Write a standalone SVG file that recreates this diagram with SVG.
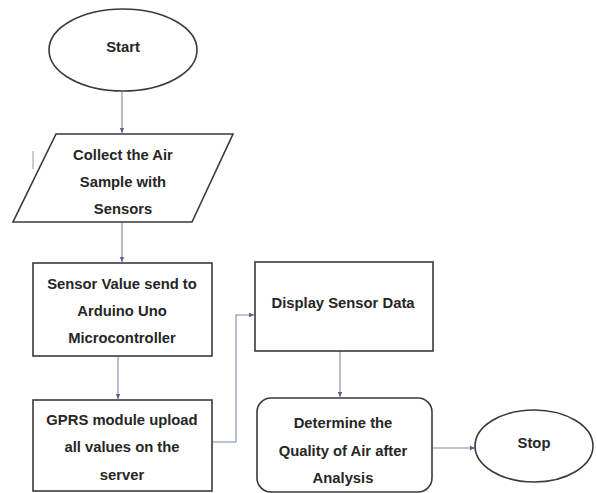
<svg xmlns="http://www.w3.org/2000/svg" width="597" height="493" viewBox="0 0 597 493">
<defs>
<style>
.shape{fill:#fff;stroke:#3a3a3a;stroke-width:1.6}
.lbl{font-family:"Liberation Sans",Arial,sans-serif;font-weight:bold;font-size:14.8px;fill:#262626;text-anchor:middle;dominant-baseline:central}
.conn{fill:none;stroke:#7b86b3;stroke-width:1.1}
</style>
<marker id="arr" markerWidth="6" markerHeight="6" refX="5" refY="3" orient="auto" markerUnits="userSpaceOnUse">
<path d="M0,0.8 L5,3 L0,5.2 Z" fill="#55609a"/>
</marker>
</defs>
<rect width="597" height="493" fill="#fff"/>
<g id="connectors">
<line class="conn" x1="122" y1="92" x2="122" y2="133" marker-end="url(#arr)"/>
<line class="conn" x1="122" y1="222" x2="122" y2="262" marker-end="url(#arr)"/>
<line class="conn" x1="118" y1="357" x2="118" y2="399" marker-end="url(#arr)"/>
<polyline class="conn" points="212,442 236,442 236,315 254,315" marker-end="url(#arr)"/>
<line class="conn" x1="340" y1="351" x2="340" y2="397" marker-end="url(#arr)"/>
<line class="conn" x1="432" y1="448" x2="475" y2="448" marker-end="url(#arr)"/>
<line x1="33" y1="151" x2="33" y2="169" stroke="#9a9a9a" stroke-width="1"/>
</g>
<g id="start">
<ellipse class="shape" cx="123" cy="50" rx="74" ry="41"/>
<text class="lbl" x="123" y="47">Start</text>
</g>
<g id="collect">
<polygon class="shape" points="56,134 233,134 192,222 13,222"/>
<text class="lbl" x="123" y="155">Collect the Air</text>
<text class="lbl" x="123" y="182">Sample with</text>
<text class="lbl" x="123" y="209">Sensors</text>
</g>
<g id="sensor">
<rect class="shape" x="33" y="263" width="179" height="93"/>
<text class="lbl" x="122" y="284">Sensor Value send to</text>
<text class="lbl" x="122" y="311">Arduino Uno</text>
<text class="lbl" x="122" y="338">Microcontroller</text>
</g>
<g id="gprs">
<rect class="shape" x="33" y="400" width="179" height="91"/>
<text class="lbl" x="122" y="420">GPRS module upload</text>
<text class="lbl" x="122" y="447">all values on the</text>
<text class="lbl" x="122" y="475">server</text>
</g>
<g id="display">
<rect class="shape" x="255" y="262" width="178" height="89"/>
<text class="lbl" x="343" y="303">Display Sensor Data</text>
</g>
<g id="determine">
<rect class="shape" x="257" y="398" width="175" height="94" rx="14" ry="14"/>
<text class="lbl" x="343" y="423">Determine the</text>
<text class="lbl" x="343" y="451">Quality of Air after</text>
<text class="lbl" x="343" y="478">Analysis</text>
</g>
<g id="stop">
<ellipse class="shape" cx="534" cy="446" rx="59" ry="36"/>
<text class="lbl" x="534" y="443">Stop</text>
</g>
</svg>
